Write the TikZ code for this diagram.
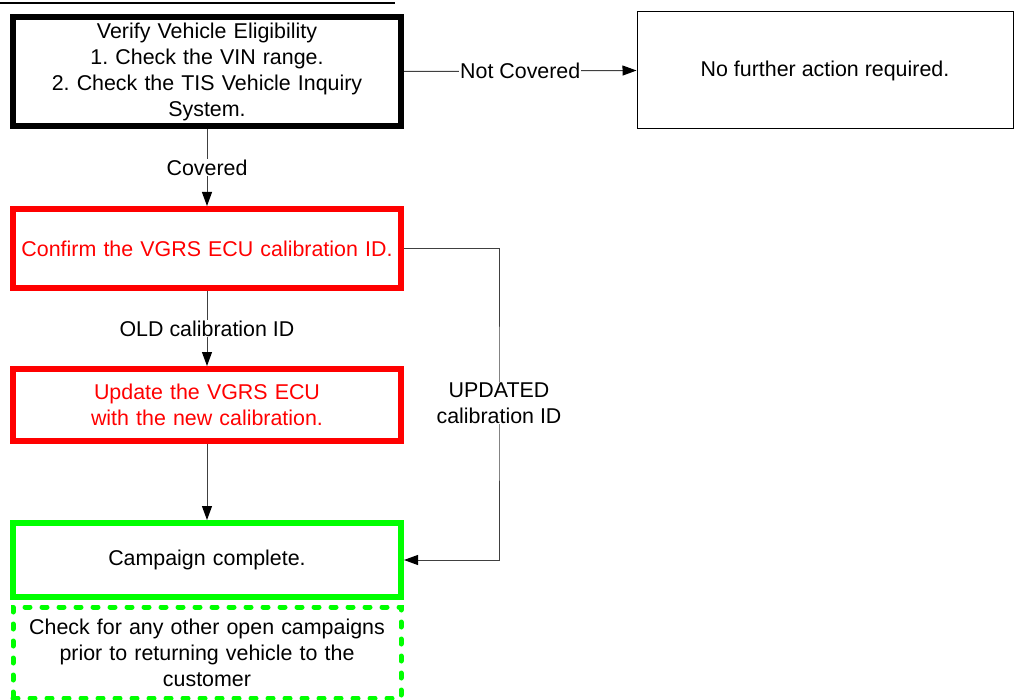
\documentclass[tikz,border=0pt]{standalone}
\usepackage{fontspec}
\setmainfont{Liberation Sans}
\frenchspacing
\usetikzlibrary{arrows.meta, positioning}

\begin{document}
\begin{tikzpicture}[x=1pt, y=-1pt,
    font=\fontsize{21.4}{26}\selectfont,
    stepbox/.style={draw, line width=6pt, align=center, minimum width=388pt, text width=384pt, inner sep=0pt},
    redbox/.style={stepbox, draw=red, text=red},
    greenbox/.style={stepbox, draw=green},
    notebox/.style={stepbox, draw=green, line width=5pt, dash pattern=on 5pt off 12pt, line cap=round},
    endbox/.style={draw, line width=1pt, align=center, minimum width=376pt, minimum height=117pt},
    link/.style={draw=black!75, line width=1pt, -{Triangle[length=14pt, width=10pt, color=black]}},
    tag/.style={fill=white, inner sep=1pt, align=center}
]
\useasboundingbox (0,0) rectangle (1014,700);

% Header rule
\draw[line width=1.5pt] (0,3) -- (395,3);

% Eligibility check
\node[stepbox, minimum height=109pt] (verify) at (207,71.5) {Verify Vehicle Eligibility\\1. Check the VIN range.\\2. Check the TIS Vehicle Inquiry\\System.};
\node[endbox] (noaction) at (825,70.5) {No further action required.};
\draw[link] (verify.east) -- node[tag] {Not Covered} (noaction.west);

% Calibration
\node[redbox, minimum height=79pt] (confirm) at (207,248.5) {Confirm the VGRS ECU calibration ID.};
\draw[link] (verify.south) -- node[tag] {Covered} (confirm.north);

\node[redbox, minimum height=72pt] (update) at (207,405) {Update the VGRS ECU\\with the new calibration.};
\draw[link] (confirm.south) -- node[tag] {OLD calibration ID} (update.north);

% Completion
\node[greenbox, minimum height=74pt] (complete) at (207,560) {Campaign complete.};
\draw[link] (update.south) -- (complete.north);
\draw[link] (confirm.east) -| (499,403) node[tag] {UPDATED\\calibration ID} |- (complete.east);

\node[notebox, minimum height=91pt] (note) at (207,652.5) {Check for any other open campaigns\\prior to returning vehicle to the\\customer};

\end{tikzpicture}
\end{document}
